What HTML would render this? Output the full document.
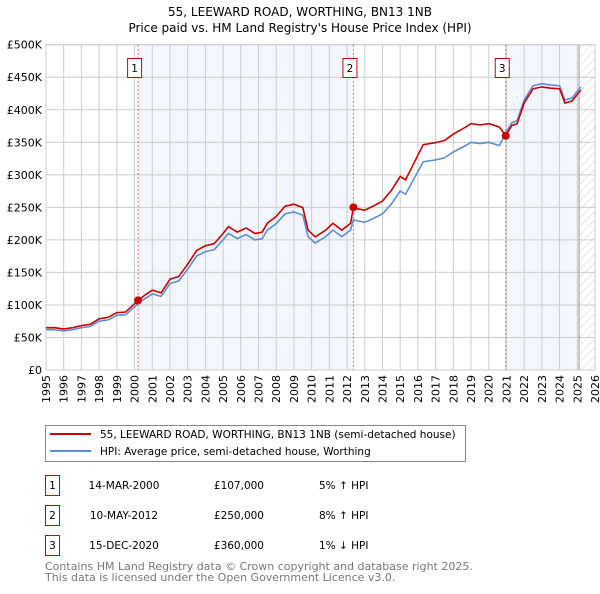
<!DOCTYPE html>
<html><head><meta charset="utf-8"><style>
body{margin:0;background:#fff;font-family:"DejaVu Sans","Liberation Sans",sans-serif;}
svg text{font-family:"DejaVu Sans","Liberation Sans",sans-serif;}
</style></head><body>
<svg id="c" width="600" height="590" viewBox="0 0 600 590" xmlns="http://www.w3.org/2000/svg">
<defs><pattern id="hatch" width="6" height="6" patternUnits="userSpaceOnUse" patternTransform="rotate(45)"><line x1="0" y1="0" x2="0" y2="6" stroke="#ccc" stroke-width="1"/></pattern></defs>
<text x="300" y="16" text-anchor="middle" font-size="12">55, LEEWARD ROAD, WORTHING, BN13 1NB</text>
<text x="300" y="32" text-anchor="middle" font-size="12">Price paid vs. HM Land Registry's House Price Index (HPI)</text>
<g id="plot"></g>
<g>
<rect x="45.5" y="425.5" width="420" height="36" fill="#fff" stroke="#888"/>
<line x1="50" y1="434" x2="91" y2="434" stroke="#cc0000" stroke-width="2"/>
<text x="100" y="438" font-size="10.5">55, LEEWARD ROAD, WORTHING, BN13 1NB (semi-detached house)</text>
<line x1="50" y1="451" x2="91" y2="451" stroke="#5b8ed6" stroke-width="2"/>
<text x="100" y="455" font-size="10.5">HPI: Average price, semi-detached house, Worthing</text>
</g>
<g id="table" font-size="10.5"></g>
<text x="45" y="570" font-size="11" fill="#777">Contains HM Land Registry data © Crown copyright and database right 2025.</text>
<text x="45" y="581" font-size="11" fill="#777">This data is licensed under the Open Government Licence v3.0.</text>
</svg>
<script>
const years=[1995,1996,1997,1998,1999,2000,2001,2002,2003,2004,2005,2006,2007,2008,2009,2010,2011,2012,2013,2014,2015,2016,2017,2018,2019,2020,2021,2022,2023,2024,2025,2026];
const yTicks=[0,50,100,150,200,250,300,350,400,450,500];
const yTickLabels=["£0","£50K","£100K","£150K","£200K","£250K","£300K","£350K","£400K","£450K","£500K"];
const hpiDates=[1995,1995.5,1996,1996.5,1997,1997.5,1998,1998.5,1999,1999.5,2000.2,2000.6,2001,2001.5,2002,2002.5,2003,2003.5,2004,2004.5,2005,2005.3,2005.8,2006.3,2006.8,2007.2,2007.5,2008,2008.5,2009,2009.5,2009.8,2010.2,2010.8,2011.2,2011.7,2012.2,2012.36,2012.6,2013,2013.5,2014,2014.5,2015,2015.3,2015.7,2016,2016.3,2017,2017.5,2018,2018.7,2019,2019.5,2020,2020.6,2020.96,2021.3,2021.6,2022,2022.5,2023,2023.5,2024,2024.3,2024.7,2025.2];
const hpiValues=[62,62,60,62,65,67,75,77,84,85,102,110,117,113,133,137,155,175,182,185,200,210,202,208,200,202,215,225,240,243,238,205,195,205,215,205,215,231,229,227,233,240,255,275,270,290,305,320,323,326,335,345,350,348,350,345,364,380,383,415,437,440,438,437,415,418,435];
const saleDates=[2000.2,2012.36,2020.96];
const salePrices=[107,250,360];
const saleLabels=["1","2","3"];
const saleDateText=["14-MAR-2000","10-MAY-2012","15-DEC-2020"];
const salePriceText=["£107,000","£250,000","£360,000"];
const saleDiffText=["5% ↑ HPI","8% ↑ HPI","1% ↓ HPI"];

const X0=46,X1=595,Y0=370,Y1=44.7;
const xs=t=>X0+(t-1995)/(2026-1995)*(X1-X0);
const ys=v=>Y0-v/500*(Y0-Y1);
const NS="http://www.w3.org/2000/svg";
const plot=document.getElementById('plot');
function mk(tag,at,parent){const e=document.createElementNS(NS,tag);for(const k in at)e.setAttribute(k,at[k]);(parent||plot).appendChild(e);return e;}
function hpiAt(t){for(let i=0;i<hpiDates.length-1;i++){if(t>=hpiDates[i]&&t<=hpiDates[i+1]){const f=(t-hpiDates[i])/(hpiDates[i+1]-hpiDates[i]);return hpiValues[i]+f*(hpiValues[i+1]-hpiValues[i]);}}return hpiValues[hpiValues.length-1];}

const last=2025.1;
let r=mk('rect',{x:xs(saleDates[0]),y:Y1,width:xs(saleDates[1])-xs(saleDates[0]),height:Y0-Y1,fill:'#f3f6fd'});

r=mk('rect',{x:xs(saleDates[2]),y:Y1,width:xs(last)-xs(saleDates[2]),height:Y0-Y1,fill:'#f3f6fd'});

r=mk('rect',{x:xs(last),y:Y1,width:X1-xs(last),height:Y0-Y1,fill:'url(#hatch)'});


years.forEach(y=>{const l=mk('line',{x1:xs(y),x2:xs(y),y1:Y1,y2:Y0,stroke:'#ccc','stroke-width':1});

const t=mk('text',{x:0,y:0,transform:`translate(${xs(y)+4},${Y0+5}) rotate(-90)`,'text-anchor':'end','font-size':11});
t.textContent=y;});
yTicks.forEach((v,i)=>{const l=mk('line',{x1:X0,x2:X1,y1:ys(v),y2:ys(v),stroke:'#ccc','stroke-width':1});

const t=mk('text',{x:X0-4,y:ys(v)+4,'text-anchor':'end','font-size':11});
t.textContent=yTickLabels[i];});
r=mk('rect',{x:X0,y:Y1,width:X1-X0,height:Y0-Y1,fill:'none',stroke:'#ccc'});

let vl=mk('line',{x1:xs(last),x2:xs(last),y1:Y1,y2:Y0,stroke:'#999','stroke-width':1});


let d=hpiDates.map((t,i)=>(i?'L':'M')+xs(t).toFixed(1)+','+ys(hpiValues[i]).toFixed(1)).join('');
let p=mk('path',{d:d,fill:'none',stroke:'#5b8ed6','stroke-width':1.6});

function factor(t){let k=0;for(let i=0;i<saleDates.length;i++)if(t>=saleDates[i])k=i;return salePrices[k]/hpiAt(saleDates[k]);}
d=hpiDates.map((t,i)=>(i?'L':'M')+xs(t).toFixed(1)+','+ys(hpiValues[i]*factor(t)).toFixed(1)).join('');
p=mk('path',{d:d,fill:'none',stroke:'#cc0000','stroke-width':1.6});


saleDates.forEach((t,i)=>{
const l=mk('line',{x1:xs(t),x2:xs(t),y1:Y1,y2:Y0,stroke:'#f06060','stroke-dasharray':'2,2','stroke-width':1});

const c=mk('circle',{cx:xs(t),cy:ys(salePrices[i]),r:4,fill:'#cc0000'});

const b=mk('rect',{x:xs(t)-10.5,y:58.5,width:14,height:19,fill:'#fff',stroke:'#cc0000'});

const tx=mk('text',{x:xs(t)-3.5,y:72,'text-anchor':'middle','font-size':10.5});
tx.textContent=saleLabels[i];
});

const tb=document.getElementById('table');
saleLabels.forEach((s,i)=>{const y=475+i*30;
const b=mk('rect',{x:45.5,y:y+0.5,width:14,height:20,fill:'#fff',stroke:'#cc0000'},tb);

const vals=[[s,52.5,'middle'],[saleDateText[i],124,'middle'],[salePriceText[i],264,'end'],[saleDiffText[i],319,'start']];
vals.forEach(v=>{const t=mk('text',{x:v[1],y:y+14,'text-anchor':v[2]},tb);
t.textContent=v[0];});
});
</script>
</body></html>
